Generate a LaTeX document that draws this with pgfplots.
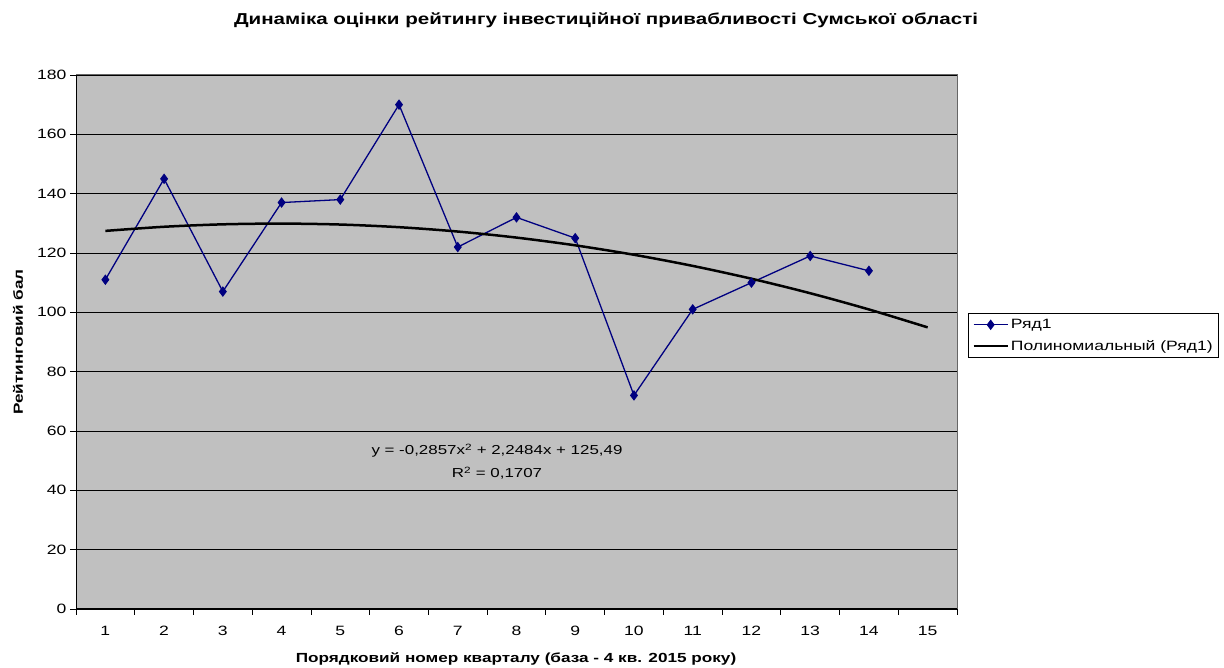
\documentclass[border=0pt]{standalone}
\usepackage{pgfplots}
\pgfplotsset{compat=1.18}
\usepackage{fontspec}
\setmainfont{Liberation Sans}[FakeStretch=1.3]
\definecolor{navyc}{HTML}{000080}
\definecolor{plotbg}{HTML}{C0C0C0}
\begin{document}
\begin{tikzpicture}[x=1pt,y=1pt]
\path[use as bounding box] (0,0) rectangle (1224,668);
\begin{axis}[
  at={(76pt,59pt)}, anchor=south west,
  scale only axis, width=881pt, height=534pt,
  xmin=0.5, xmax=15.5, ymin=0, ymax=180,
  xtick={1,...,15}, major x tick style={draw=none},
  minor xtick={0.5,1.5,...,15.5},
  ytick={0,20,...,180},
  tick align=outside, major tick length=6pt, minor tick length=6pt,
  tick style={black, line width=0.8pt},
  axis x line*=bottom, axis y line*=left,
  axis line style={black, line width=1pt, -},
  axis background/.style={fill=plotbg, draw=gray!80!black, line width=1pt},
  ymajorgrids, grid style={black, line width=0.8pt},
  tick label style={font=\fontsize{13.5}{16}\selectfont},
  /pgf/number format/assume math mode=true,
  xticklabel style={yshift=-8pt},
  clip=false,
  legend style={at={(1.0125,0.5543)}, anchor=north west, draw=black, line width=0.8pt,
    font=\fontsize{13.5}{18}\selectfont, inner sep=4pt, row sep=6pt,
    legend cell align=left},
  legend image code/.code={\draw[#1] (0pt,0pt) -- (34pt,0pt); \draw[#1, only marks] plot coordinates {(17pt,0pt)};},
]
\addplot[navyc, line width=1.3pt, mark=diamond*, mark size=4.5pt, mark options={fill=navyc, draw=navyc, line width=1pt}]
coordinates {(1,111)(2,145)(3,107)(4,137)(5,138)(6,170)(7,122)(8,132)(9,125)(10,72)(11,101)(12,110)(13,119)(14,114)};
\addlegendentry{Ряд1}
\addplot[black, line width=2.5pt, smooth, no marks]
coordinates {(1,127.45)(2,128.84)(3,129.66)(4,129.91)(5,129.59)(6,128.70)(7,127.23)(8,125.19)(9,122.58)(10,119.40)(11,115.65)(12,111.33)(13,106.44)(14,100.97)(15,94.93)};
\addlegendentry{Полиномиальный (Ряд1)}
\end{axis}
\node[font=\bfseries\fontsize{15.8}{18}\selectfont] at (606,648) {Динаміка оцінки рейтингу інвестиційної привабливості Сумської області};
\node[font=\bfseries\fontsize{13.2}{16}\selectfont, rotate=90] at (18,326) {Рейтинговий бал};
\node[font=\bfseries\fontsize{13.2}{16}\selectfont] at (516,9) {Порядковий номер кварталу (база - 4 кв. 2015 року)};
\node[font=\fontsize{13}{16}\selectfont] at (497,217) {y = -0,2857x\textsuperscript{2} + 2,2484x + 125,49};
\node[font=\fontsize{13}{16}\selectfont] at (497,195) {R\textsuperscript{2} = 0,1707};
\end{tikzpicture}
\end{document}
